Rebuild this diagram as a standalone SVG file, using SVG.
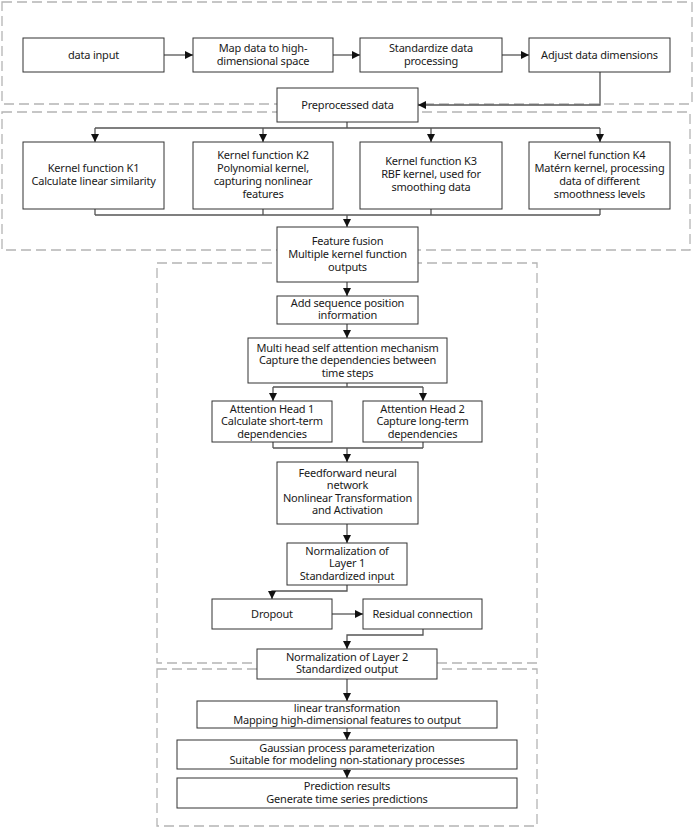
<svg xmlns="http://www.w3.org/2000/svg" width="694" height="828" viewBox="0 0 694 828">
  <style>
    .grp { fill: none; stroke: #b4b4b4; stroke-width: 1.3; stroke-dasharray: 10 5; }
    .box { fill: #ffffff; stroke: #333333; stroke-width: 1; }
    .lbl { font-family: "Noto Sans", "Open Sans", sans-serif; font-size: 11px; letter-spacing: -0.2px; fill: #1a1a1a; text-anchor: middle; }
    .con { fill: none; stroke: #555555; stroke-width: 1.3; }
    .arr { marker-end: url(#ah); }
  </style>
  <defs>
    <marker id="ah" viewBox="0 0 10 10" refX="10" refY="5" markerWidth="8" markerHeight="8" markerUnits="userSpaceOnUse" orient="auto">
      <path d="M0,0 L10,5 L0,10 z" fill="#111111"/>
    </marker>
  </defs>

  <rect width="694" height="828" fill="#ffffff"/>

  <!-- stage frames -->
  <g id="frames">
    <rect class="grp" x="2" y="2" width="690" height="102"/>
    <rect class="grp" x="2" y="112" width="688" height="138"/>
    <rect class="grp" x="157" y="263" width="380" height="400"/>
    <rect class="grp" x="157" y="669" width="380" height="157"/>
  </g>

  <!-- connectors -->
  <g id="connectors">
    <path class="con arr" d="M164,55 H193"/>
    <path class="con arr" d="M333,55 H360"/>
    <path class="con arr" d="M502,55 H529"/>
    <path class="con arr" d="M600,72 V105 H418"/>

    <path class="con" d="M347,122 V128 M95,128 H600"/>
    <path class="con arr" d="M95,128 V142"/>
    <path class="con arr" d="M263,128 V142"/>
    <path class="con arr" d="M431,128 V142"/>
    <path class="con arr" d="M600,128 V142"/>

    <path class="con" d="M95,209 V215 M263,209 V215 M431,209 V215 M600,209 V215 M95,215 H600"/>
    <path class="con arr" d="M347,215 V227"/>

    <path class="con arr" d="M347,282 V296"/>
    <path class="con arr" d="M347,324 V338"/>
    <path class="con" d="M347,383 V387 M273,387 H423"/>
    <path class="con arr" d="M273,387 V401"/>
    <path class="con arr" d="M423,387 V401"/>
    <path class="con" d="M273,442 V448 M423,442 V448 M273,448 H423"/>
    <path class="con arr" d="M347,448 V462"/>
    <path class="con arr" d="M347,524 V543"/>
    <path class="con arr" d="M347,585 V591 H272 V599"/>
    <path class="con arr" d="M332,614 H363"/>
    <path class="con arr" d="M423,629 V635 H347 V649"/>
    <path class="con arr" d="M347,679 V701"/>
    <path class="con arr" d="M347,728 V740"/>
    <path class="con arr" d="M347,769 V778"/>
  </g>

  <!-- preprocessing -->
  <g id="data-input">
    <rect class="box" x="23" y="38" width="141" height="34"/>
    <text class="lbl" x="93.5" y="59">data input</text>
  </g>
  <g id="map-high-dim">
    <rect class="box" x="193" y="38" width="140" height="34"/>
    <text class="lbl" x="263" y="52">Map data to high-</text>
    <text class="lbl" x="263" y="65">dimensional space</text>
  </g>
  <g id="standardize">
    <rect class="box" x="360" y="38" width="142" height="34"/>
    <text class="lbl" x="431" y="52">Standardize data</text>
    <text class="lbl" x="431" y="65">processing</text>
  </g>
  <g id="adjust-dims">
    <rect class="box" x="529" y="38" width="141" height="34"/>
    <text class="lbl" x="599.5" y="59">Adjust data dimensions</text>
  </g>
  <g id="preprocessed">
    <rect class="box" x="277" y="88" width="141" height="34"/>
    <text class="lbl" x="347.5" y="109">Preprocessed data</text>
  </g>

  <!-- kernel functions -->
  <g id="k1">
    <rect class="box" x="23" y="142" width="141" height="67"/>
    <text class="lbl" x="93.5" y="172">Kernel function K1</text>
    <text class="lbl" x="93.5" y="185">Calculate linear similarity</text>
  </g>
  <g id="k2">
    <rect class="box" x="193" y="142" width="140" height="67"/>
    <text class="lbl" x="263" y="159">Kernel function K2</text>
    <text class="lbl" x="263" y="172">Polynomial kernel,</text>
    <text class="lbl" x="263" y="185">capturing nonlinear</text>
    <text class="lbl" x="263" y="198">features</text>
  </g>
  <g id="k3">
    <rect class="box" x="360" y="142" width="142" height="67"/>
    <text class="lbl" x="431" y="165">Kernel function K3</text>
    <text class="lbl" x="431" y="178">RBF kernel, used for</text>
    <text class="lbl" x="431" y="191">smoothing data</text>
  </g>
  <g id="k4">
    <rect class="box" x="529" y="142" width="141" height="67"/>
    <text class="lbl" x="599.5" y="159">Kernel function K4</text>
    <text class="lbl" x="599.5" y="172">Matérn kernel, processing</text>
    <text class="lbl" x="599.5" y="185">data of different</text>
    <text class="lbl" x="599.5" y="198">smoothness levels</text>
  </g>
  <g id="fusion">
    <rect class="box" x="277" y="227" width="141" height="55"/>
    <text class="lbl" x="347.5" y="245">Feature fusion</text>
    <text class="lbl" x="347.5" y="258">Multiple kernel function</text>
    <text class="lbl" x="347.5" y="271">outputs</text>
  </g>

  <!-- attention encoder -->
  <g id="position">
    <rect class="box" x="277" y="296" width="141" height="28"/>
    <text class="lbl" x="347.5" y="307">Add sequence position</text>
    <text class="lbl" x="347.5" y="319">information</text>
  </g>
  <g id="multihead">
    <rect class="box" x="248" y="338" width="199" height="45"/>
    <text class="lbl" x="347.5" y="352">Multi head self attention mechanism</text>
    <text class="lbl" x="347.5" y="364">Capture the dependencies between</text>
    <text class="lbl" x="347.5" y="377">time steps</text>
  </g>
  <g id="head1">
    <rect class="box" x="212" y="401" width="120" height="41"/>
    <text class="lbl" x="272" y="413">Attention Head 1</text>
    <text class="lbl" x="272" y="425">Calculate short-term</text>
    <text class="lbl" x="272" y="438">dependencies</text>
  </g>
  <g id="head2">
    <rect class="box" x="363" y="401" width="119" height="41"/>
    <text class="lbl" x="422.5" y="413">Attention Head 2</text>
    <text class="lbl" x="422.5" y="425">Capture long-term</text>
    <text class="lbl" x="422.5" y="438">dependencies</text>
  </g>
  <g id="ffn">
    <rect class="box" x="277" y="462" width="141" height="62"/>
    <text class="lbl" x="347.5" y="477">Feedforward neural</text>
    <text class="lbl" x="347.5" y="489">network</text>
    <text class="lbl" x="347.5" y="502">Nonlinear Transformation</text>
    <text class="lbl" x="347.5" y="514">and Activation</text>
  </g>
  <g id="norm1">
    <rect class="box" x="287" y="543" width="120" height="42"/>
    <text class="lbl" x="347" y="555">Normalization of</text>
    <text class="lbl" x="347" y="567">Layer 1</text>
    <text class="lbl" x="347" y="580">Standardized input</text>
  </g>
  <g id="dropout">
    <rect class="box" x="212" y="599" width="120" height="30"/>
    <text class="lbl" x="272" y="618">Dropout</text>
  </g>
  <g id="residual">
    <rect class="box" x="363" y="599" width="119" height="30"/>
    <text class="lbl" x="422.5" y="618">Residual connection</text>
  </g>
  <g id="norm2">
    <rect class="box" x="257" y="649" width="180" height="30"/>
    <text class="lbl" x="347" y="661">Normalization of Layer 2</text>
    <text class="lbl" x="347" y="673">Standardized output</text>
  </g>

  <!-- output head -->
  <g id="linear">
    <rect class="box" x="197" y="701" width="300" height="27"/>
    <text class="lbl" x="347" y="712">linear transformation</text>
    <text class="lbl" x="347" y="724">Mapping high-dimensional features to output</text>
  </g>
  <g id="gaussian">
    <rect class="box" x="177" y="740" width="340" height="29"/>
    <text class="lbl" x="347" y="752">Gaussian process parameterization</text>
    <text class="lbl" x="347" y="764">Suitable for modeling non-stationary processes</text>
  </g>
  <g id="prediction">
    <rect class="box" x="177" y="778" width="340" height="30"/>
    <text class="lbl" x="347" y="790">Prediction results</text>
    <text class="lbl" x="347" y="803">Generate time series predictions</text>
  </g>
</svg>
